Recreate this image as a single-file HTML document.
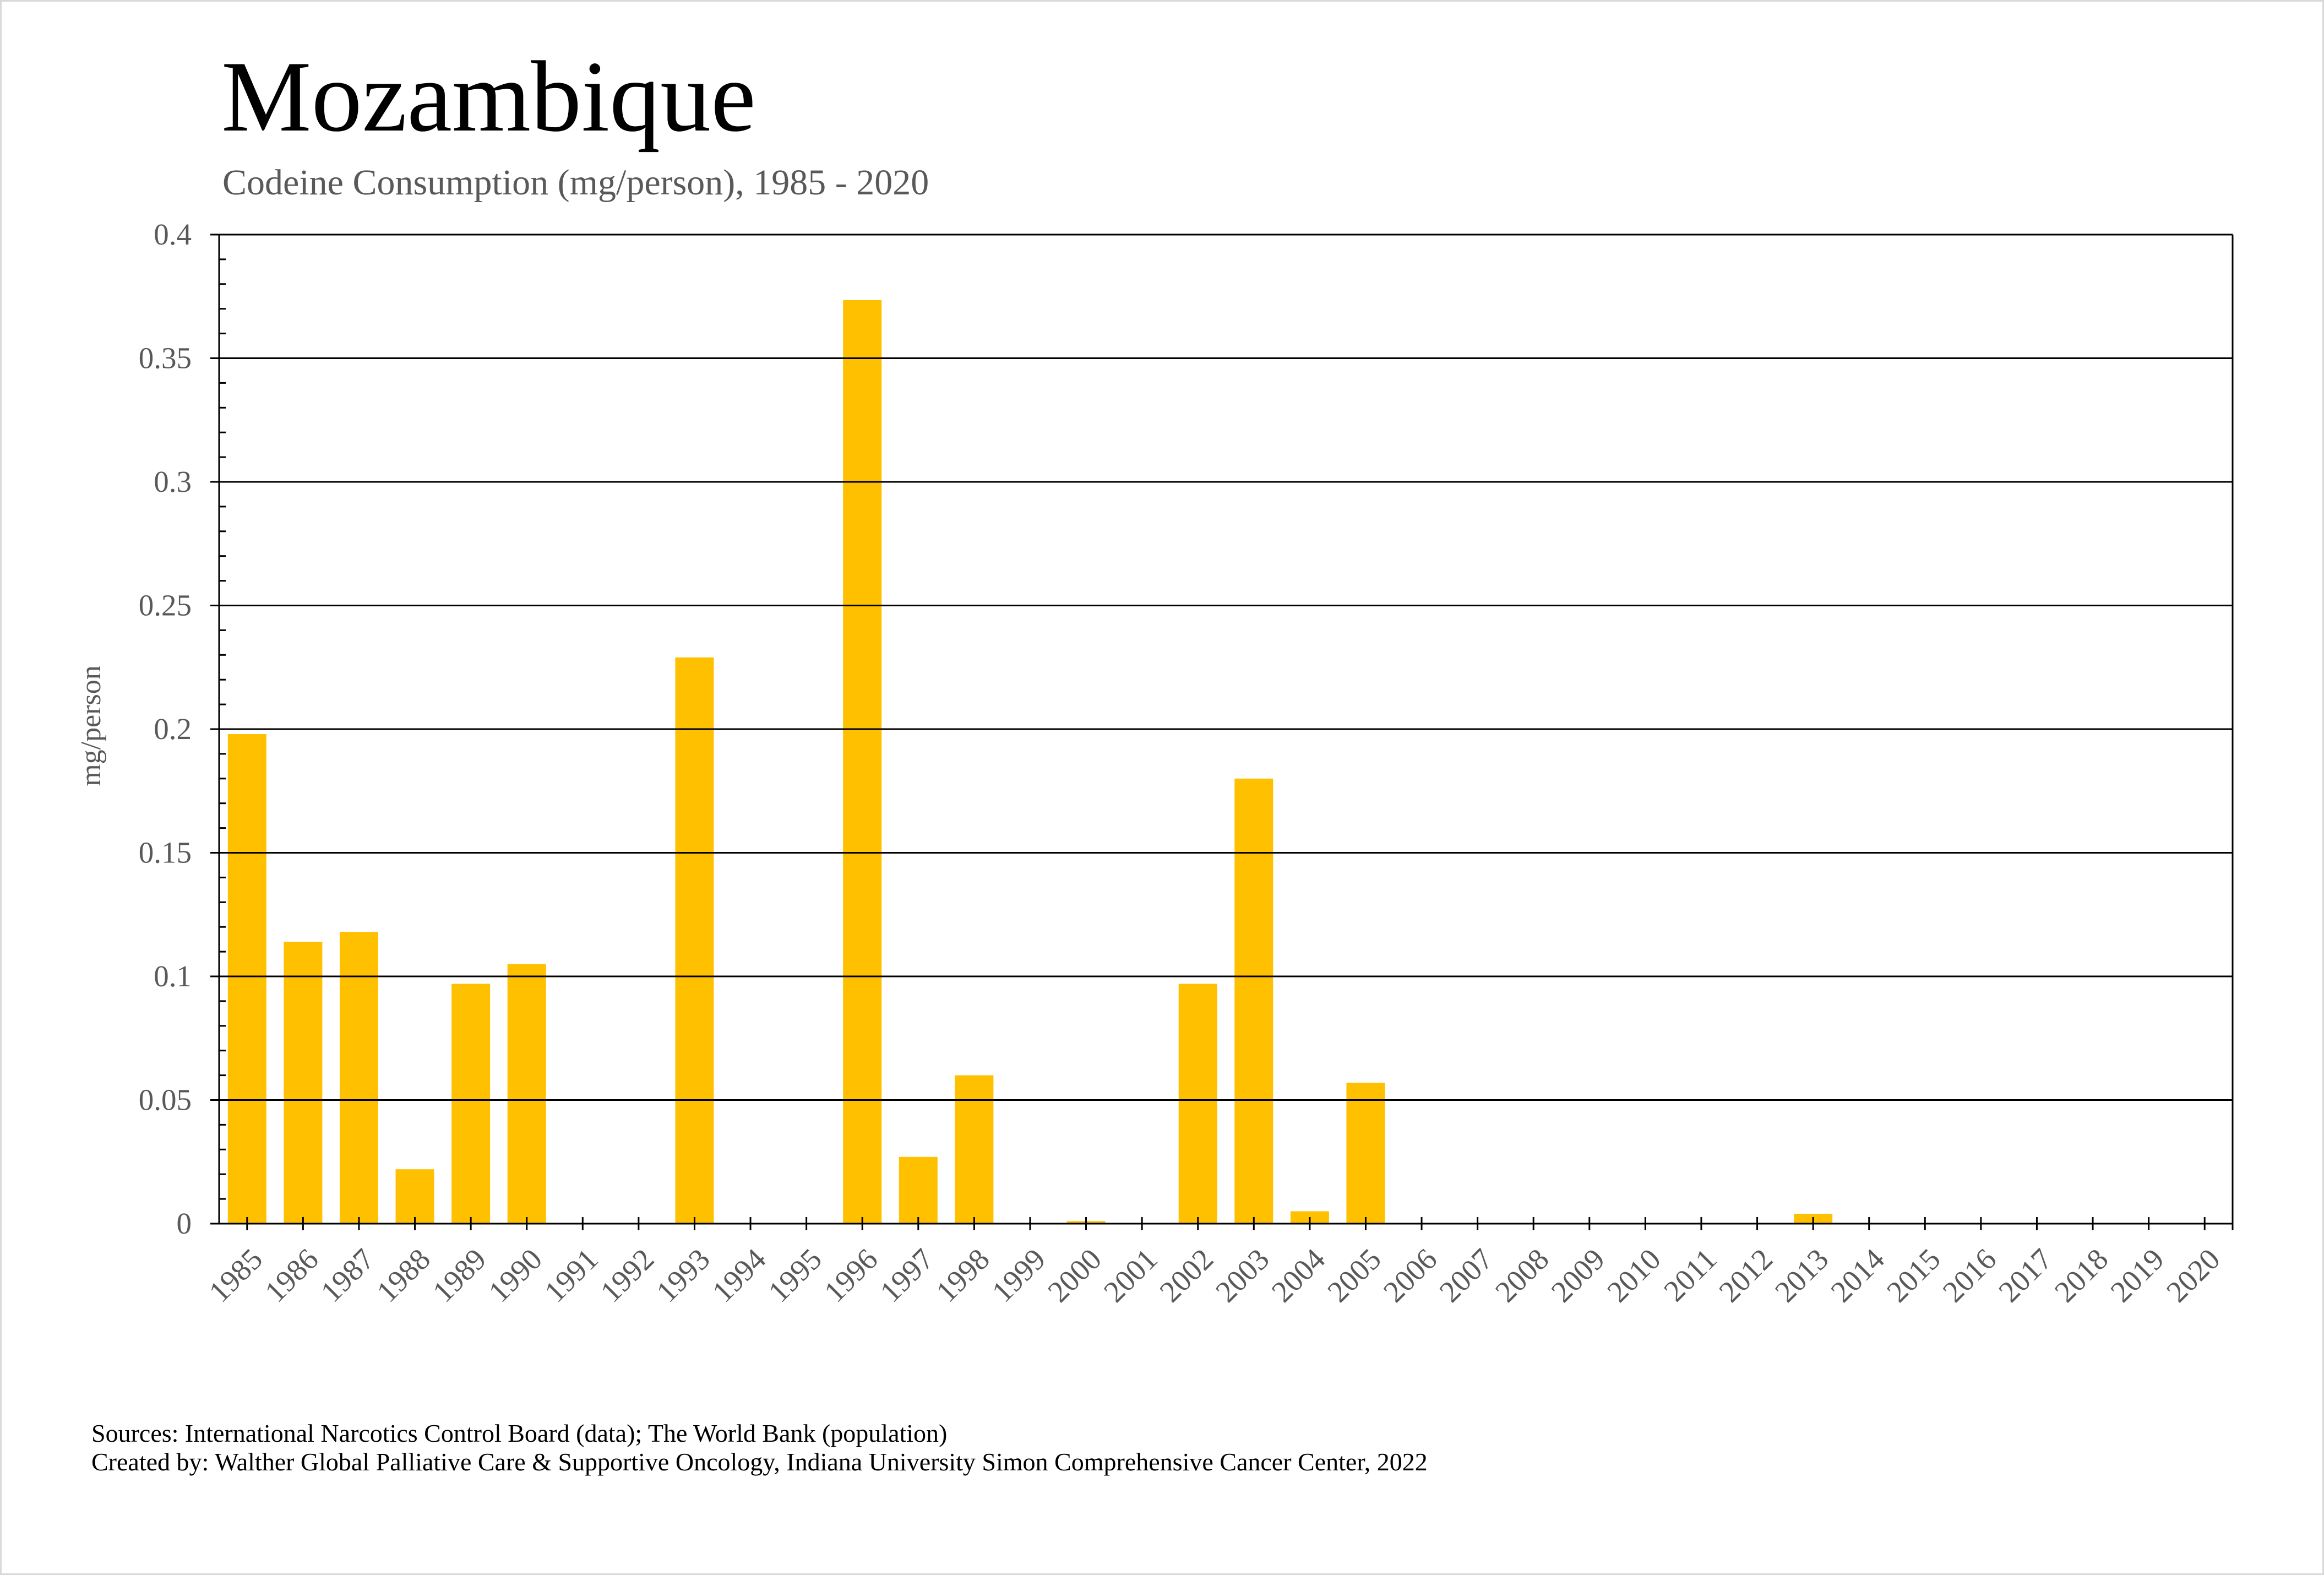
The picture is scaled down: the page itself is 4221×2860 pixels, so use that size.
<!DOCTYPE html>
<html><head><meta charset="utf-8"><style>
html,body{margin:0;padding:0;background:#fff;}
svg{display:block;}
</style></head><body>
<svg width="4221" height="2860" viewBox="0 0 4221 2860" xmlns="http://www.w3.org/2000/svg" font-family="'Liberation Serif', serif">
<rect x="1.5" y="1.5" width="4218" height="2857" fill="#fff" stroke="#d9d9d9" stroke-width="3"/>
<text x="402" y="237" font-size="184" fill="#000">Mozambique</text>
<text x="404" y="353" font-size="66" fill="#595959">Codeine Consumption (mg/person), 1985 - 2020</text>
<text transform="translate(182,1318) rotate(-90)" text-anchor="middle" font-size="52" fill="#595959">mg/person</text>
<g id="bars" fill="#FFC000"></g>
<g id="grid" stroke="#000" stroke-width="3"></g>
<g id="lbl" font-size="55" fill="#595959"></g>
<text x="166" y="2618" font-size="46" fill="#000">Sources: International Narcotics Control Board (data); The World Bank (population)</text>
<text x="166" y="2670" font-size="46" fill="#000">Created by: Walther Global Palliative Care &amp; Supportive Oncology, Indiana University Simon Comprehensive Cancer Center, 2022</text>
</svg>
<script>
const L=398,R=4055,T=426,B=2222,H=B-T,W=(R-L)/36;
const vals={1985:.198,1986:.114,1987:.118,1988:.022,1989:.097,1990:.105,1993:.229,1996:.3735,1997:.027,1998:.060,2000:.001,2002:.097,2003:.180,2004:.005,2005:.057,2013:.004};
const ns="http://www.w3.org/2000/svg";
function el(p,t,a,txt){const e=document.createElementNS(ns,t);for(const k in a)e.setAttribute(k,a[k]);if(txt!==undefined)e.textContent=txt;document.getElementById(p).appendChild(e);}
for(let i=0;i<36;i++){const y=1985+i,cx=L+(i+0.5)*W;
 if(vals[y]){const h=vals[y]/0.4*H;el('bars','rect',{x:cx-35,y:B-h,width:70,height:h});}
 el('grid','line',{x1:cx,y1:B-12,x2:cx,y2:B+12});
 el('lbl','text',{transform:`translate(${cx+31},2290) rotate(-45)`,'text-anchor':'end'},String(y));
}
for(let k=0;k<=8;k++){const y=B-k*H/8;
 el('grid','line',{x1:382,y1:y,x2:R,y2:y});
 el('lbl','text',{x:348,y:y+18,'text-anchor':'end'},String(+(k*0.05).toFixed(2)));
}
for(let k=0;k<40;k++){if(k%5===0)continue;const y=B-k*H/40;el('grid','line',{x1:L,y1:y,x2:L+12,y2:y});}
el('grid','line',{x1:L,y1:T,x2:L,y2:B});
el('grid','line',{x1:R,y1:T,x2:R,y2:B+12});
</script>
</body></html>
